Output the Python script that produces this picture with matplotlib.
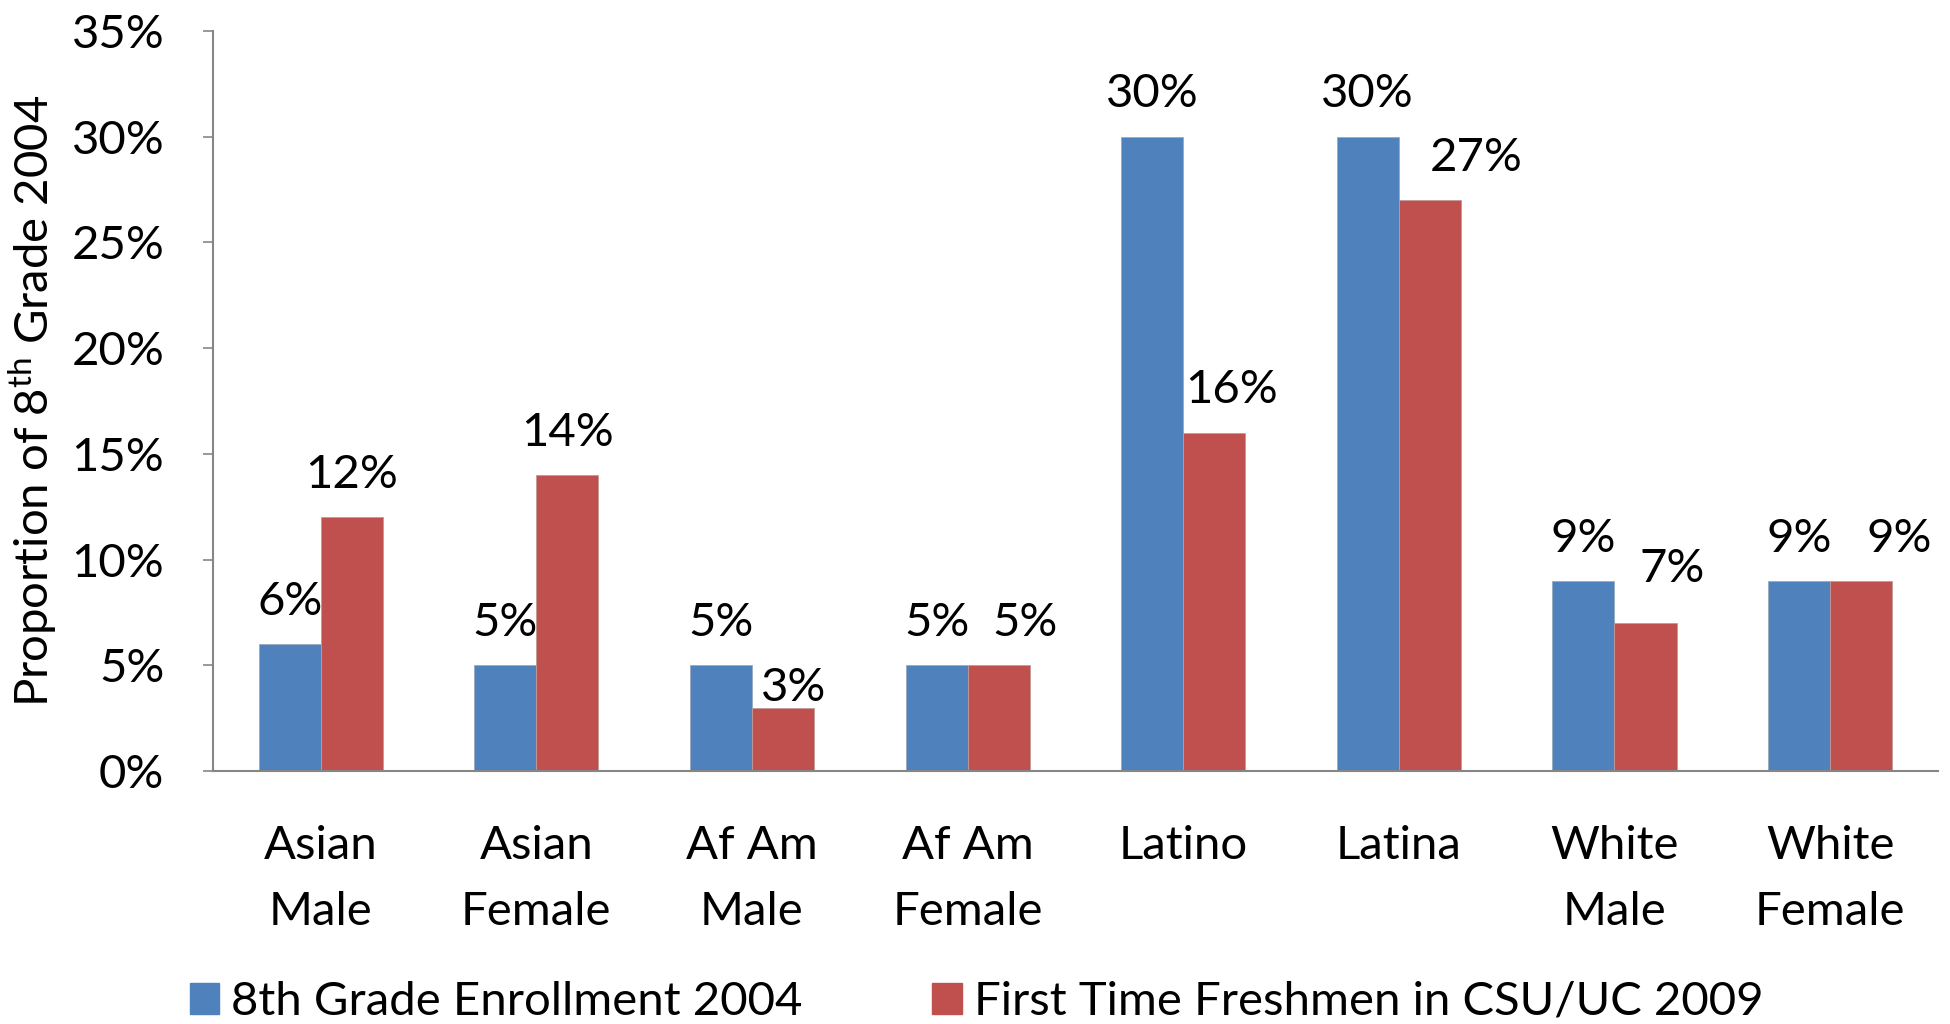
import numpy as np
import matplotlib.pyplot as plt
from matplotlib.patches import Patch
from matplotlib.ticker import FuncFormatter

plt.rcParams['font.family'] = ['Lato', 'DejaVu Sans']
plt.rcParams['mathtext.fontset'] = 'custom'
plt.rcParams['mathtext.rm'] = 'Lato'
plt.rcParams['mathtext.it'] = 'Lato'

# Data
categories = ['Asian\nMale', 'Asian\nFemale', 'Af Am\nMale', 'Af Am\nFemale',
              'Latino', 'Latina', 'White\nMale', 'White\nFemale']
enroll_2004 = [6, 5, 5, 5, 30, 30, 9, 9]
freshmen_2009 = [12, 14, 3, 5, 16, 27, 7, 9]
series_names = ['8th Grade Enrollment 2004', 'First Time Freshmen in CSU/UC 2009']
yticks = [0, 5, 10, 15, 20, 25, 30, 35]

# hand nudged label offsets for the red series (points)
red_dx = [0, 0, 8, 19, 12.6, 33.5, 19.4, 27.4]
red_dy = [21, 21, 5, 21, 21, 21, 29.5, 21]

blue = '#4F81BD'
red = '#C0504D'
axis_gray = '#868686'
fs = 34

fig = plt.figure(figsize=(19.5, 10.24), dpi=100)
ax = fig.add_axes([0.1092, 0.2471, 0.8846, 0.7227])

x = np.arange(len(categories))
w = 0.288
bars1 = ax.bar(x - w / 2, enroll_2004, w, color=blue, edgecolor='#9aaac0', linewidth=0.6)
bars2 = ax.bar(x + w / 2, freshmen_2009, w, color=red, edgecolor='#c09a98', linewidth=0.6)

for i in range(len(x)):
    ax.annotate('%d%%' % enroll_2004[i], (x[i] - w / 2, enroll_2004[i]),
                xytext=(0, 21), textcoords='offset points',
                ha='center', va='baseline', fontsize=fs)
    ax.annotate('%d%%' % freshmen_2009[i], (x[i] + w / 2, freshmen_2009[i]),
                xytext=(red_dx[i], red_dy[i]), textcoords='offset points',
                ha='center', va='baseline', fontsize=fs)

ax.set_xlim(-0.5, len(categories) - 0.5)
ax.set_ylim(0, 35)
ax.set_yticks(yticks)
ax.yaxis.set_major_formatter(FuncFormatter(lambda v, p: '%d%%' % v))
ax.set_xticks(x)
ax.set_xticklabels(categories, fontsize=fs, linespacing=1.7)
ax.tick_params(axis='x', length=0, pad=39)
ax.tick_params(axis='y', length=7, width=1.2, color=axis_gray, pad=28, labelsize=fs)

for s in ['top', 'right']:
    ax.spines[s].set_visible(False)
for s in ['left', 'bottom']:
    ax.spines[s].set_color(axis_gray)
    ax.spines[s].set_linewidth(1.5)

ax.set_ylabel(r'Proportion of 8$^{\mathrm{th}}$ Grade 2004', fontsize=fs, labelpad=9)

handles = [Patch(color=blue), Patch(color=red)]
fig.legend(handles, series_names, loc='lower left', bbox_to_anchor=(0.0975, 0.001),
           ncol=2, frameon=False, fontsize=fs, handlelength=0.62, handleheight=0.62,
           handletextpad=0.25, columnspacing=2.75, borderpad=0, borderaxespad=0)

fig.savefig('out.png', dpi=100)
